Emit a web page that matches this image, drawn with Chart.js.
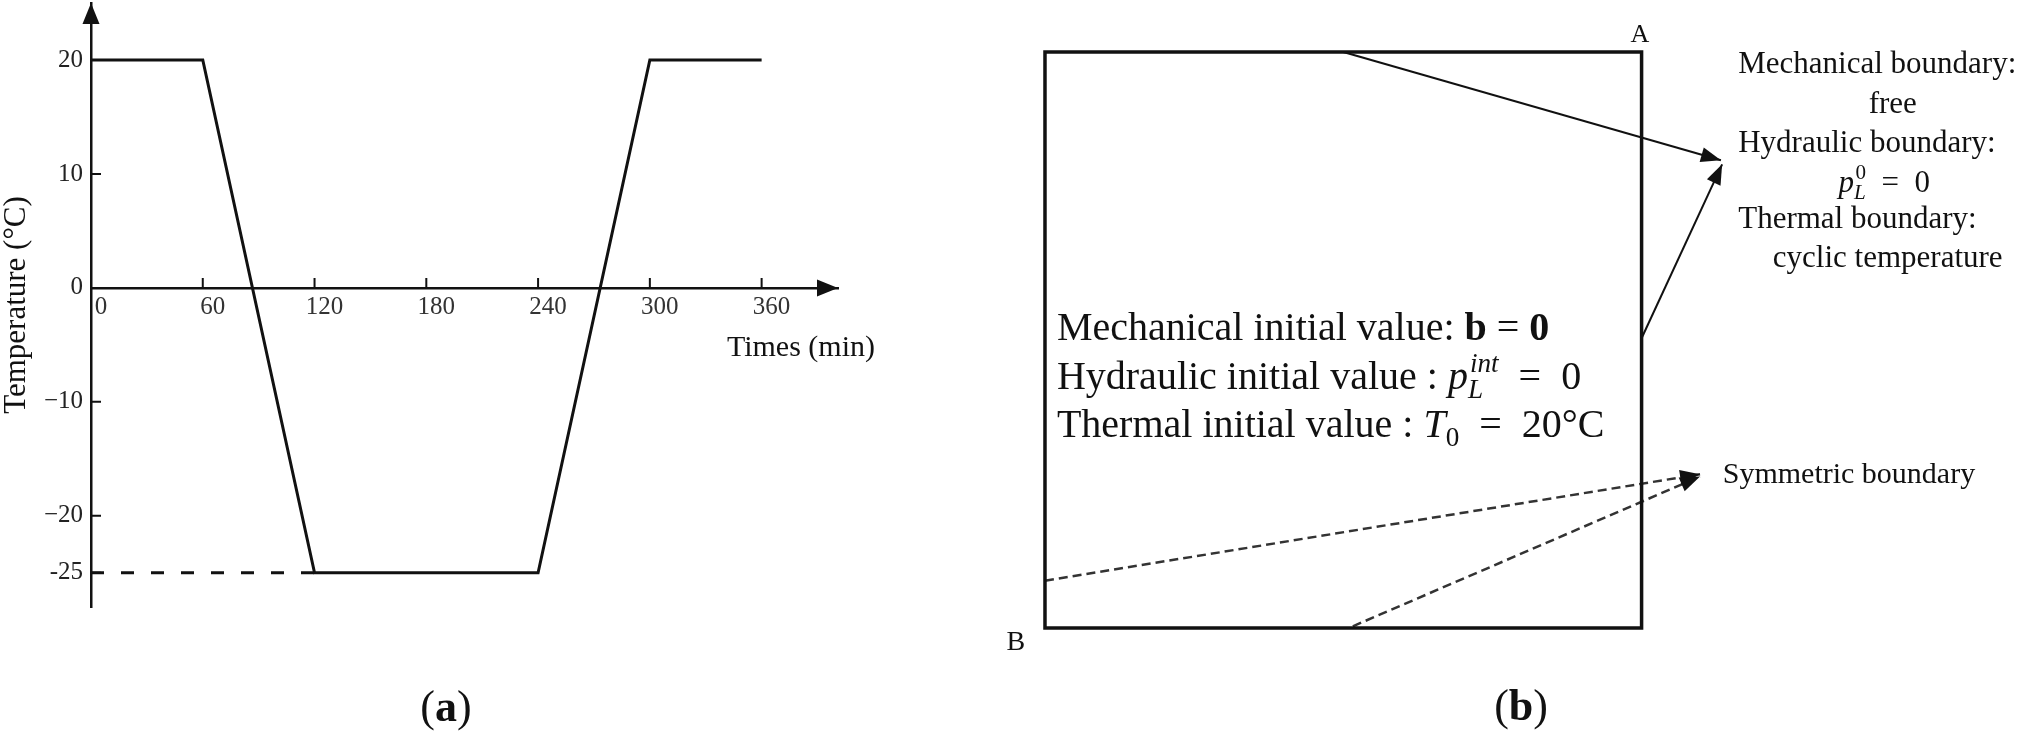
<!DOCTYPE html>
<html lang="en">
<head>
<meta charset="utf-8" />
<title>Temperature cycle and boundary conditions</title>
<script src="https://cdn.jsdelivr.net/npm/chart.js"></script>
<style>
  body { margin: 0; background: #fff; }
  #wrap { position: relative; width: 2032px; height: 734px; }
  #chartA { position: absolute; left: 0; top: 0; }
  #chartB { position: absolute; left: 1000px; top: 0; }
</style>
</head>
<body>
<div id="wrap">
  <canvas id="chartA" width="900" height="734"></canvas>
  <canvas id="chartB" width="1032" height="734"></canvas>
</div>
<script>
// (a) temperature cycle
const timeMin = [0, 60, 120, 240, 300, 360];
const tempC = [20, 20, -25, -25, 20, 20];
const guideTime = [0, 120];
const guideTemp = [-25, -25];
const xTicks = [0, 60, 120, 180, 240, 300, 360];
const yTicks = [20, 10, 0, -10, -20, -25];
const yTickLabels = ["20", "10", "0", "−10", "−20", "-25"];

// (b) domain sketch, in domain units (square side = 10)
const boxX = [0, 10, 10, 0, 0];
const boxY = [0, 0, 10, 10, 0];
const topArrowX = [5.0, 11.33];
const topArrowY = [10, 8.12];
const sideArrowX = [10, 11.35];
const sideArrowY = [5.03, 8.05];
const symArrow1X = [0, 10.98];
const symArrow1Y = [0.82, 2.67];
const symArrow2X = [5.16, 10.98];
const symArrow2Y = [0.03, 2.63];

const SERIF = '"Liberation Serif", "Times New Roman", serif';
const INK = "#111";
const EQ = "\u2002=\u2002";
Chart.defaults.font.family = SERIF;
Chart.defaults.color = INK;

const pts = (xs, ys) => xs.map((x, i) => ({ x: x, y: ys[i] }));

function arrowHead(ctx, x0, y0, x1, y1, len, half) {
  const a = Math.atan2(y1 - y0, x1 - x0);
  const c = Math.cos(a), s = Math.sin(a);
  ctx.beginPath();
  ctx.moveTo(x1, y1);
  ctx.lineTo(x1 - len * c + half * s, y1 - len * s - half * c);
  ctx.lineTo(x1 - len * c - half * s, y1 - len * s + half * c);
  ctx.closePath();
  ctx.fill();
}

// text made of runs: { t, w (font style), sub, sup, subW, supW }
function richText(ctx, runs, x, y, size, align) {
  const f = (w, s) => (w ? w + " " : "") + s + "px " + SERIF;
  const small = size * 0.68;
  const widths = runs.map(r => {
    ctx.font = f(r.w, size);
    const w = ctx.measureText(r.t).width;
    let sw = 0;
    if (r.sub) { ctx.font = f(r.subW, small); sw = ctx.measureText(r.sub).width; }
    if (r.sup) { ctx.font = f(r.supW, small); sw = Math.max(sw, ctx.measureText(r.sup).width + size * 0.05); }
    return [w, sw];
  });
  const total = widths.reduce((s, w) => s + w[0] + w[1], 0);
  let cx = align === "center" ? x - total / 2 : align === "right" ? x - total : x;
  ctx.textAlign = "left";
  ctx.textBaseline = "alphabetic";
  runs.forEach((r, i) => {
    ctx.font = f(r.w, size);
    ctx.fillText(r.t, cx, y);
    cx += widths[i][0];
    if (r.sub) { ctx.font = f(r.subW, small); ctx.fillText(r.sub, cx, y + size * 0.22); }
    if (r.sup) { ctx.font = f(r.supW, small); ctx.fillText(r.sup, cx + size * 0.05, y - size * 0.42); }
    cx += widths[i][1];
  });
}

// ---------- (a) ----------
const axisDecor = {
  id: "axisDecor",
  afterDraw(chart) {
    const { ctx, chartArea, scales: { x, y } } = chart;
    const y0 = y.getPixelForValue(0);
    const x0 = chartArea.left;
    ctx.save();
    ctx.strokeStyle = INK;
    ctx.fillStyle = INK;
    ctx.lineWidth = 2;
    ctx.beginPath();
    xTicks.slice(1).forEach(v => {
      const px = x.getPixelForValue(v);
      ctx.moveTo(px, y0);
      ctx.lineTo(px, y0 - 10);
    });
    yTicks.filter(v => v !== 0).forEach(v => {
      const py = y.getPixelForValue(v);
      ctx.moveTo(x0, py);
      ctx.lineTo(x0 + 10, py);
    });
    ctx.stroke();
    arrowHead(ctx, x0, y0, chartArea.right, y0, 21, 8.5);
    arrowHead(ctx, x0, chartArea.bottom, x0, chartArea.top, 21, 8.5);

    ctx.font = "30px " + SERIF;
    ctx.textAlign = "right";
    ctx.textBaseline = "alphabetic";
    ctx.fillText("Times (min)", chartArea.right + 37, y0 + 68);

    ctx.save();
    ctx.translate(17, (chartArea.top + chartArea.bottom) / 2);
    ctx.rotate(-Math.PI / 2);
    ctx.textAlign = "center";
    ctx.textBaseline = "middle";
    ctx.font = "31px " + SERIF;
    ctx.fillText("Temperature (°C)", 0, 0);
    ctx.restore();

    richText(ctx, [{ t: "(" }, { t: "a", w: "bold" }, { t: ")" }], 446, 721, 44, "center");
    ctx.restore();
  }
};

new Chart(document.getElementById("chartA"), {
  type: "line",
  data: {
    datasets: [
      { data: pts(timeMin, tempC), borderColor: INK, borderWidth: 3, pointRadius: 0, tension: 0 },
      { data: pts(guideTime, guideTemp), borderColor: INK, borderWidth: 3, borderDash: [13, 17], pointRadius: 0 }
    ]
  },
  options: {
    responsive: false,
    animation: false,
    layout: { padding: { left: 31, top: 3, right: 62, bottom: 127 } },
    plugins: { legend: { display: false }, tooltip: { enabled: false } },
    scales: {
      x: {
        type: "linear",
        min: 0,
        max: 401,
        position: { y: 0 },
        grid: { display: false, drawTicks: false },
        border: { color: INK, width: 2.5 },
        ticks: { font: { size: 25 }, color: "#333", padding: 5, labelOffset: 10, maxRotation: 0, autoSkip: false },
        afterBuildTicks: s => { s.ticks = xTicks.map(v => ({ value: v })); },
        afterFit: s => { s.paddingLeft = 0; s.paddingRight = 0; }
      },
      y: {
        type: "linear",
        min: -28,
        max: 25,
        grid: { display: false, drawTicks: false },
        border: { color: INK, width: 2.5 },
        ticks: {
          font: { size: 25 }, color: "#222", padding: 8, autoSkip: false,
          callback: (v, i) => yTickLabels[i]
        },
        afterBuildTicks: s => { s.ticks = yTicks.map(v => ({ value: v })); },
        afterFit: s => { s.width = 60; s.paddingTop = 0; s.paddingBottom = 0; }
      }
    }
  },
  plugins: [axisDecor]
});

// ---------- (b) ----------
const notes = [
  { runs: [{ t: "A" }], at: [9.97, 10.17], size: 26, align: "center" },
  { runs: [{ t: "B" }], at: [-0.49, -0.38], size: 28, align: "center" },
  { runs: [{ t: "Mechanical boundary:" }], at: [11.62, 9.64], size: 31 },
  { runs: [{ t: "free" }], at: [14.21, 8.94], size: 31, align: "center" },
  { runs: [{ t: "Hydraulic boundary:" }], at: [11.62, 8.26], size: 31 },
  { runs: [{ t: "p", w: "italic", sub: "L", subW: "italic", sup: "0" }, { t: EQ + "0" }], at: [13.3, 7.57], size: 31 },
  { runs: [{ t: "Thermal boundary:" }], at: [11.62, 6.94], size: 31 },
  { runs: [{ t: "cyclic temperature" }], at: [12.2, 6.27], size: 31 },
  { runs: [{ t: "Symmetric boundary" }], at: [11.36, 2.52], size: 30 },
  { runs: [{ t: "Mechanical initial value: " }, { t: "b", w: "bold" }, { t: " = " }, { t: "0", w: "bold" }], at: [0.2, 5.0], size: 40 },
  { runs: [{ t: "Hydraulic initial value : " }, { t: "p", w: "italic", sub: "L", subW: "italic", sup: "int", supW: "italic" }, { t: EQ + "0" }], at: [0.2, 4.15], size: 40 },
  { runs: [{ t: "Thermal initial value : " }, { t: "T", w: "italic", sub: "0" }, { t: EQ + "20°C" }], at: [0.2, 3.32], size: 40 },
  { runs: [{ t: "(" }, { t: "b", w: "bold" }, { t: ")" }], at: [7.98, -1.6], size: 44, align: "center" }
];

const sketchDecor = {
  id: "sketchDecor",
  afterDatasetsDraw(chart) {
    const { ctx, scales: { x, y } } = chart;
    ctx.save();
    ctx.fillStyle = INK;
    chart.data.datasets.forEach((ds, i) => {
      if (!ds.arrow) return;
      const p = chart.getDatasetMeta(i).data;
      const a = p[p.length - 2], b = p[p.length - 1];
      arrowHead(ctx, a.x, a.y, b.x, b.y, 20, 7.5);
    });
    notes.forEach(n => {
      richText(ctx, n.runs, x.getPixelForValue(n.at[0]), y.getPixelForValue(n.at[1]), n.size, n.align);
    });
    ctx.restore();
  }
};

const lineSet = (xs, ys, extra) => Object.assign({
  data: pts(xs, ys), showLine: true, pointRadius: 0, borderColor: INK, borderWidth: 2
}, extra);

new Chart(document.getElementById("chartB"), {
  type: "scatter",
  data: {
    datasets: [
      lineSet(boxX, boxY, { borderWidth: 3.5, borderJoinStyle: "miter", borderCapStyle: "square" }),
      lineSet(topArrowX, topArrowY, { arrow: true }),
      lineSet(sideArrowX, sideArrowY, { arrow: true }),
      lineSet(symArrow1X, symArrow1Y, { arrow: true, borderColor: "#333", borderWidth: 2.5, borderDash: [9, 5] }),
      lineSet(symArrow2X, symArrow2Y, { arrow: true, borderColor: "#333", borderWidth: 2.5, borderDash: [9, 5] })
    ]
  },
  options: {
    responsive: false,
    animation: false,
    layout: { padding: 0 },
    plugins: { legend: { display: false }, tooltip: { enabled: false } },
    scales: {
      x: { type: "linear", display: false, min: -0.754, max: 16.544 },
      y: { type: "linear", display: false, min: -1.84, max: 10.903 }
    }
  },
  plugins: [sketchDecor]
});
</script>
</body>
</html>
